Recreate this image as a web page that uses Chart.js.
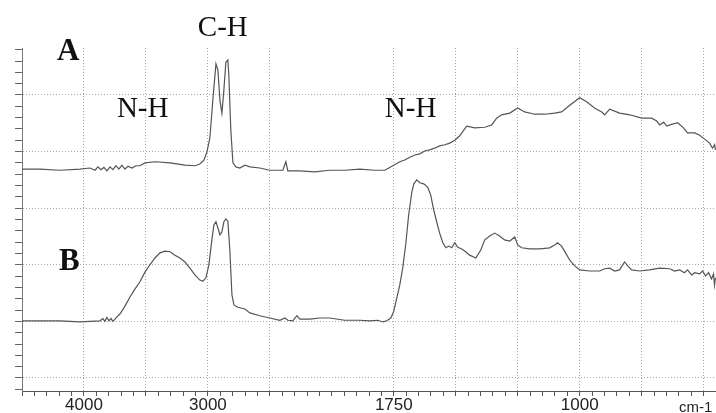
<!DOCTYPE html>
<html>
<head>
<meta charset="utf-8">
<script src="https://cdn.jsdelivr.net/npm/chart.js@4.4.0/dist/chart.umd.min.js"></script>
<style>
  html, body { margin: 0; padding: 0; background: #fff; }
  #wrap { position: relative; width: 716px; height: 413px; }
</style>
</head>
<body>
<div id="wrap"><canvas id="ir-chart"></canvas></div>
<script>
// trace A: wavenumber (cm-1) and signal
const waveA = [4500, 4355, 4194, 4032, 3952, 3911, 3887, 3863, 3839, 3815, 3790, 3766, 3742, 3718, 3694, 3669,
  3645, 3613, 3581, 3548, 3508, 3427, 3306, 3185, 3105, 3065, 3032, 3008, 2984, 2960, 2935, 2919, 2903, 2887,
  2871, 2855, 2839, 2831, 2815, 2798, 2774, 2742, 2702, 2661, 2581, 2500, 2395, 2371, 2355, 2258, 2137, 2016,
  1948, 1887, 1827, 1786, 1754, 1726, 1706, 1685, 1665, 1645, 1625, 1605, 1585, 1565, 1544, 1524, 1504, 1484,
  1456, 1423, 1383, 1355, 1335, 1315, 1282, 1250, 1222, 1181, 1141, 1101, 1073, 1040, 1000, 972, 940, 911, 899,
  879, 839, 798, 750, 710, 689, 677, 661, 649, 629, 605, 581, 565, 536, 516, 496, 476, 464, 456, 452];
const valA = [36.9, 36.9, 36.7, 36.9, 37.1, 36.7, 37.3, 36.8, 37.2, 36.6, 37.3, 36.8, 37.5, 36.9, 37.6, 36.9,
  37.4, 37.1, 37.5, 37.5, 38.0, 38.2, 38.0, 37.6, 37.5, 37.8, 38.5, 39.9, 42.4, 49.1, 55.5, 54.4, 49.1, 46.8,
  50.9, 55.8, 56.2, 53.5, 43.8, 38.0, 37.3, 37.1, 37.6, 37.3, 37.1, 36.7, 36.7, 38.2, 36.6, 36.6, 36.4, 36.7,
  36.7, 36.9, 36.7, 36.7, 37.5, 38.2, 38.5, 39.0, 39.4, 39.6, 40.1, 40.3, 40.6, 41.0, 41.2, 41.5, 42.0, 42.8,
  44.5, 44.2, 44.3, 44.7, 45.9, 46.5, 46.8, 47.7, 47.0, 46.6, 46.6, 46.8, 47.0, 48.2, 49.5, 48.8, 47.7, 47.0, 46.5,
  47.5, 46.8, 46.5, 45.9, 45.9, 45.4, 44.7, 45.2, 44.5, 44.8, 45.1, 44.2, 43.3, 43.3, 42.9, 42.2, 41.5, 40.6, 41.2, 40.3];

// trace B
const waveB = [4500, 4355, 4194, 4032, 3871, 3847, 3831, 3815, 3798, 3782, 3766, 3750, 3734, 3710, 3669, 3629,
  3589, 3548, 3508, 3468, 3427, 3387, 3347, 3306, 3266, 3226, 3185, 3145, 3105, 3065, 3040, 3016, 2992, 2968,
  2952, 2935, 2919, 2903, 2887, 2871, 2855, 2839, 2823, 2806, 2790, 2758, 2702, 2661, 2581, 2500, 2419, 2379,
  2355, 2315, 2282, 2258, 2177, 2097, 2016, 1948, 1887, 1847, 1815, 1794, 1778, 1762, 1750, 1738, 1726, 1714,
  1702, 1690, 1677, 1669, 1657, 1645, 1629, 1613, 1601, 1589, 1577, 1565, 1552, 1540, 1528, 1516, 1504, 1492,
  1476, 1460, 1444, 1419, 1399, 1383, 1363, 1343, 1323, 1303, 1282, 1262, 1250, 1234, 1202, 1161, 1121, 1101,
  1089, 1073, 1057, 1040, 1020, 1000, 960, 919, 899, 879, 859, 839, 819, 806, 790, 758, 718, 677, 637, 617, 597,
  577, 565, 548, 536, 516, 504, 492, 480, 468, 460, 456, 452];
const valB = [10.1, 10.1, 10.1, 9.9, 10.1, 10.5, 10.0, 10.7, 10.1, 10.5, 10.0, 10.4, 10.8, 11.3, 12.7, 14.3,
  15.7, 17.0, 18.7, 20.0, 21.2, 22.1, 22.4, 22.3, 21.7, 21.2, 20.5, 19.4, 18.2, 17.3, 17.1, 17.7, 20.0, 24.4,
  27.0, 27.6, 26.5, 25.3, 25.8, 27.6, 28.1, 27.7, 22.6, 14.7, 12.9, 12.5, 12.2, 11.5, 11.0, 10.6, 10.2, 10.6,
  10.2, 10.1, 11.0, 10.4, 10.4, 10.6, 10.6, 10.2, 10.2, 10.1, 10.2, 9.9, 10.1, 10.6, 11.8, 14.1, 16.4, 19.4,
  23.5, 28.8, 32.9, 34.3, 35.0, 34.5, 34.3, 33.7, 32.3, 29.7, 27.6, 25.6, 23.9, 23.0, 23.3, 23.0, 23.9, 23.1,
  22.8, 22.3, 21.7, 21.2, 22.6, 24.4, 25.1, 25.6, 25.1, 24.4, 24.2, 24.9, 23.5, 23.0, 22.8, 22.8, 23.0, 23.5,
  23.9, 23.3, 22.1, 20.8, 19.8, 19.1, 18.9, 18.9, 19.3, 19.4, 18.9, 19.1, 20.5, 19.8, 19.1, 18.9, 19.1, 19.4, 19.3, 18.9, 19.1,
  18.6, 19.1, 18.2, 18.6, 18.4, 18.9, 18.0, 18.6, 17.5, 18.4, 16.4, 17.7];

// axis labels
const xLabels = ['4000', '3000', '1750', '1000'];
const xGridNoLine = [4500, 2000];   // left edge, and the scale change (no printed line)
const yTicks = [];
for (let v = -2; v <= 58; v += 2) yTicks.push(v);

const notes = [
  { text: 'A',   wave: 4218, value: 56.2, bold: true },
  { text: 'C-H', wave: 3081, value: 60.4, bold: false },
  { text: 'N-H', wave: 3734, value: 46.1, bold: false },
  { text: 'N-H', wave: 1786, value: 46.1, bold: false },
  { text: 'B',   wave: 4202, value: 19.1, bold: true }
];

// IR chart paper: 500 cm-1 per division above 2000, 250 below
class IrScale extends Chart.LinearScale {
  toUnit(v) {
    return v >= 2000 ? (4500 - v) / 500 : 5 + (2000 - v) / 250;
  }
  buildTicks() {
    const ticks = [];
    for (let v = 4500; v > 2000; v -= 100) ticks.push({ value: v });
    for (let v = 2000; v >= this.min; v -= 50) ticks.push({ value: v });
    return ticks;
  }
  getPixelForValue(v) {
    return this.left + this.width * this.toUnit(v) / this.toUnit(this.min);
  }
  getValueForPixel(px) {
    const u = (px - this.left) / this.width * this.toUnit(this.min);
    return u <= 5 ? 4500 - 500 * u : 2000 - 250 * (u - 5);
  }
}
IrScale.id = 'ir';
IrScale.defaults = {};
Chart.register(IrScale);

const notePlugin = {
  id: 'notes',
  afterDraw(chart) {
    const { ctx, scales: { x, y } } = chart;
    ctx.save();
    ctx.fillStyle = '#111';
    ctx.textBaseline = 'alphabetic';
    ctx.textAlign = 'left';
    notes.forEach(n => {
      ctx.font = (n.bold ? 'bold 31px' : '29px') + ' "Liberation Serif", "Times New Roman", serif';
      ctx.fillText(n.text, x.getPixelForValue(n.wave), y.getPixelForValue(n.value));
    });
    ctx.font = '15px "Liberation Sans", Arial, sans-serif';
    ctx.fillStyle = '#222';
    ctx.fillText('cm-1', 679, 412);
    ctx.restore();
  }
};

const gridGray = '#a8a8a8';

new Chart(document.getElementById('ir-chart'), {
  type: 'line',
  data: {
    datasets: [
      { label: 'A', data: waveA.map((w, i) => ({ x: w, y: valA[i] })) },
      { label: 'B', data: waveB.map((w, i) => ({ x: w, y: valB[i] })) }
    ]
  },
  options: {
    responsive: true,
    maintainAspectRatio: false,
    animation: false,
    events: [],
    layout: { padding: { top: 48, left: 0, right: 0, bottom: 0 } },
    elements: {
      line: { borderColor: '#555', borderWidth: 1.2, tension: 0, fill: false },
      point: { radius: 0 }
    },
    plugins: { legend: { display: false }, tooltip: { enabled: false } },
    scales: {
      x: {
        type: 'ir',
        min: 450,
        max: 4500,
        afterFit: s => { s.height = 22; },
        grid: {
          color: c => (c.tick && c.tick.value % 250 === 0 && !xGridNoLine.includes(c.tick.value)) ? gridGray : 'transparent',
          tickColor: '#555',
          tickLength: 5,
          lineWidth: 1
        },
        border: { display: true, color: '#555', width: 1, dash: [1, 2] },
        ticks: {
          autoSkip: false,
          maxRotation: 0,
          minRotation: 0,
          padding: -1,
          color: '#222',
          font: { family: '"Liberation Sans", Arial, sans-serif', size: 17 },
          callback: v => xLabels.includes(String(v)) ? String(v) : ''
        }
      },
      y: {
        type: 'linear',
        min: -2.3,
        max: 58.3,
        afterFit: s => { s.width = 22; },
        afterBuildTicks: s => { s.ticks = yTicks.map(v => ({ value: v })); },
        grid: {
          color: c => (c.tick && c.tick.value % 10 === 0) ? gridGray : 'transparent',
          tickColor: '#666',
          tickLength: 7,
          lineWidth: 1
        },
        border: { display: true, color: '#777', width: 1, dash: [1, 2] },
        ticks: { display: false }
      }
    }
  },
  plugins: [notePlugin]
});
</script>
</body>
</html>
